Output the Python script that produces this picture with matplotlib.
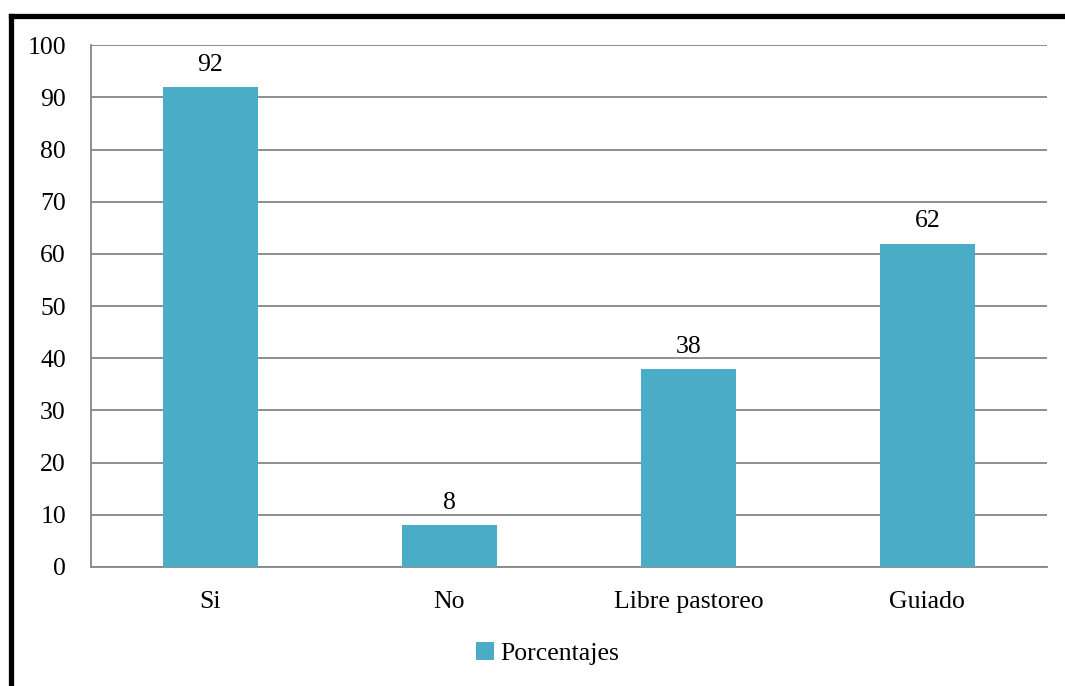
import matplotlib.pyplot as plt
from matplotlib.lines import Line2D

categorias = ['Si', 'No', 'Libre pastoreo', 'Guiado']
porcentajes = [92, 8, 38, 62]
yticks = [0, 10, 20, 30, 40, 50, 60, 70, 80, 90, 100]

plt.rcParams['font.family'] = ['Liberation Serif', 'DejaVu Serif']

fig = plt.figure(figsize=(10.65, 6.86), dpi=100)
ax = fig.add_axes([0.0854, 0.1735, 0.8976, 0.7605])

x = range(len(categorias))
bars = ax.bar(x, porcentajes, width=0.4, color='#4BACC6', label='Porcentajes', zorder=3)

for xi, v in zip(x, porcentajes):
    ax.annotate(str(v), (xi, v), xytext=(0, 8), textcoords='offset points',
                ha='center', va='bottom', fontsize=18.5)

ax.set_xlim(-0.5, 3.5)
ax.set_ylim(0, 100)
ax.set_yticks(yticks)
ax.set_xticks(list(x))
ax.set_xticklabels(categorias)
ax.tick_params(axis='both', length=0, labelsize=18.5)
ax.tick_params(axis='y', pad=18)
ax.tick_params(axis='x', pad=17)
ax.yaxis.grid(True, color='#868686', linewidth=1.3, zorder=0)
ax.set_axisbelow(True)
for s in ['top', 'right']:
    ax.spines[s].set_visible(False)
for s in ['left', 'bottom']:
    ax.spines[s].set_color('#868686')
    ax.spines[s].set_linewidth(1.3)

leg = fig.legend(handles=[bars], labels=['Porcentajes'], loc='center',
                 bbox_to_anchor=(0.514, 0.048), frameon=False, fontsize=18.5,
                 handlelength=0.7, handleheight=0.7, handletextpad=0.25)

# marco negro superior e izquierdo
fig.add_artist(Line2D([10.5 / 1065, 1.01], [1 - 15.5 / 686, 1 - 15.5 / 686],
                      transform=fig.transFigure, color='black', linewidth=3.8,
                      solid_capstyle='projecting'))
fig.add_artist(Line2D([10.5 / 1065, 10.5 / 1065], [1 - 15.5 / 686, -0.01],
                      transform=fig.transFigure, color='black', linewidth=3.8,
                      solid_capstyle='projecting'))

plt.savefig('out.png', dpi=100)
